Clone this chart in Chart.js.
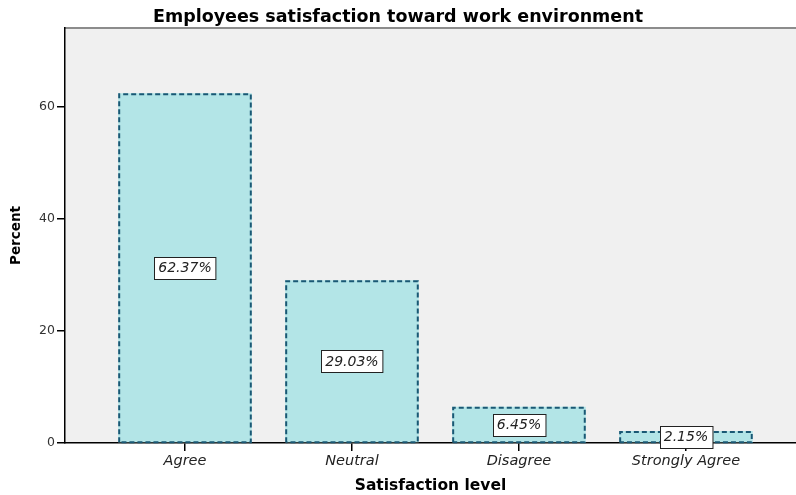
<!DOCTYPE html>
<html><head><meta charset="utf-8">
<script src="https://cdn.jsdelivr.net/npm/chart.js@4"></script>
<style>html,body{margin:0;padding:0;background:#fff}#wrap{width:796px;height:495px}</style>
</head><body><div id="wrap"><canvas id="c" width="796" height="495"></canvas></div>
<script>
const categories = ['Agree', 'Neutral', 'Disagree', 'Strongly Agree'];
const percents = [62.37, 29.03, 6.45, 2.15];
const yTickValues = [0, 20, 40, 60];

const FONT = 'DejaVu Sans';

const bgPlugin = {
  id: 'bg',
  beforeDraw(chart) {
    const {ctx, chartArea: a} = chart;
    ctx.save();
    ctx.fillStyle = '#f0f0f0';
    ctx.fillRect(a.left, a.top, a.right - a.left, a.bottom - a.top);
    ctx.strokeStyle = '#8c8c8c';
    ctx.lineWidth = 2;
    ctx.beginPath();
    ctx.moveTo(a.left, a.top);
    ctx.lineTo(a.right, a.top);
    ctx.stroke();
    ctx.restore();
  }
};

const barDecor = {
  id: 'barDecor',
  afterDatasetsDraw(chart) {
    const {ctx} = chart;
    const meta = chart.getDatasetMeta(0);
    ctx.save();
    meta.data.forEach((bar, i) => {
      const p = bar.getProps(['x', 'y', 'base', 'width'], true);
      const l = p.x - p.width / 2 + 1, r = p.x + p.width / 2 - 1;
      const t = p.y + 1, b = p.base;
      ctx.strokeStyle = '#1a5874';
      ctx.lineWidth = 2;
      ctx.setLineDash([5, 3]);
      ctx.beginPath();
      ctx.moveTo(l, b); ctx.lineTo(l, t); ctx.lineTo(r, t); ctx.lineTo(r, b); ctx.lineTo(l, b);
      ctx.stroke();
      ctx.setLineDash([]);
      // value label
      const text = percents[i].toFixed(2) + '%';
      ctx.font = 'italic 14px "' + FONT + '"';
      const tw = ctx.measureText(text).width;
      const bw = tw + 8, bh = 22;
      const cy = (p.y + p.base) / 2;
      const bx = Math.round(p.x - bw / 2) + 0.5, by = Math.round(cy - bh / 2) + 0.5;
      ctx.fillStyle = '#ffffff';
      ctx.fillRect(bx, by, bw, bh);
      ctx.strokeStyle = '#222';
      ctx.lineWidth = 1;
      ctx.strokeRect(bx, by, bw, bh);
      ctx.fillStyle = '#222';
      ctx.textAlign = 'center';
      ctx.textBaseline = 'middle';
      ctx.fillText(text, p.x, cy + 1);
    });
    ctx.restore();
  }
};

new Chart(document.getElementById('c'), {
  type: 'bar',
  data: {
    datasets: [{
      data: percents.map((v, i) => ({x: i, y: v})),
      backgroundColor: '#b3e5e7',
      borderWidth: 0,
      barPercentage: 0.8,
      categoryPercentage: 1
    }]
  },
  options: {
    responsive: false,
    devicePixelRatio: 1,
    animation: false,
    layout: {padding: 0},
    plugins: {
      legend: {display: false},
      tooltip: {enabled: false},
      title: {
        display: true,
        text: 'Employees satisfaction toward work environment',
        font: {family: FONT, size: 17.5, weight: 'bold'},
        color: '#000',
        padding: {top: 7, bottom: 0}
      }
    },
    scales: {
      x: {
        type: 'linear',
        min: -0.7186,
        max: 3.659,
        offset: false,
        afterBuildTicks: s => { s.ticks = categories.map((c, i) => ({value: i})); },
        afterFit: s => { s.height = 52; },
        ticks: {
          autoSkip: false, maxRotation: 0,
          callback: v => categories[v],
          font: {family: FONT, size: 14.5, style: 'italic'},
          color: '#222',
          padding: 2
        },
        grid: {drawOnChartArea: false, drawTicks: true, tickLength: 8, color: '#000', lineWidth: 1.5, offset: false},
        border: {display: true, color: '#000', width: 1.5},
        title: {
          display: true, text: 'Satisfaction level',
          font: {family: FONT, size: 15.5, weight: 'bold'},
          color: '#000',
          padding: {top: 0, bottom: 0}
        }
      },
      y: {
        min: 0,
        max: 74,
        afterBuildTicks: s => { s.ticks = yTickValues.map(v => ({value: v})); },
        afterFit: s => { s.width = 65; },
        ticks: {font: {family: FONT, size: 12.5}, color: '#333', padding: 2},
        grid: {drawOnChartArea: false, drawTicks: true, tickLength: 8, color: '#000', lineWidth: 1.5},
        border: {display: true, color: '#000', width: 1.5},
        title: {
          display: true, text: 'Percent',
          font: {family: FONT, size: 13.5, weight: 'bold'},
          color: '#000',
          padding: {top: 8, bottom: 0}
        }
      }
    }
  },
  plugins: [bgPlugin, barDecor]
});
</script>
</body></html>
